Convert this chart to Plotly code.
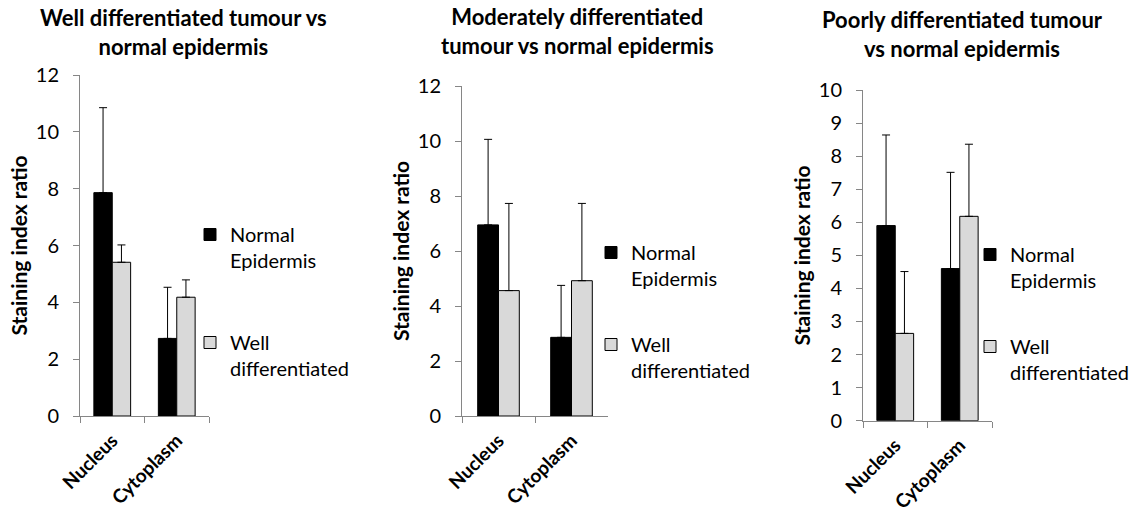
import plotly.graph_objects as go

categories = ["Nucleus", "Cytoplasm"]
series_names = ["Normal<br>Epidermis", "Well<br>differentiated"]

titles = [
    "Well differentiated tumour vs<br>normal epidermis",
    "Moderately differentiated<br>tumour vs normal epidermis",
    "Poorly differentiated tumour<br>vs normal epidermis",
]

# panel 1: well differentiated
p1_normal = [7.86, 2.73]
p1_normal_err = [2.99, 1.80]
p1_tumour = [5.41, 4.18]
p1_tumour_err = [0.61, 0.61]

# panel 2: moderately differentiated
p2_normal = [6.95, 2.86]
p2_normal_err = [3.11, 1.89]
p2_tumour = [4.56, 4.92]
p2_tumour_err = [3.17, 2.81]

# panel 3: poorly differentiated
p3_normal = [5.90, 4.60]
p3_normal_err = [2.74, 2.91]
p3_tumour = [2.64, 6.18]
p3_tumour_err = [1.87, 2.18]

y_ranges = [[0, 12], [0, 12], [0, 10]]
y_dticks = [2, 2, 1]

W, H = 1148, 517
FONT = "Lato"

# layout positions (px)
x_dom_px = [(80, 209), (462, 608), (863, 992)]
y_dom_px = [(75, 416), (86, 416), (90, 420.7)]
title_pos = [(183, 32), (577, 31), (962, 34)]
legend_pos = [(190, 215), (591, 233), (970, 235)]
legend_gaps = [53, 37, 37]

panels = [
    (p1_normal, p1_normal_err, p1_tumour, p1_tumour_err),
    (p2_normal, p2_normal_err, p2_tumour, p2_tumour_err),
    (p3_normal, p3_normal_err, p3_tumour, p3_tumour_err),
]

fig = go.Figure()
colors = ["#000000", "#d9d9d9"]

for i, (nv, ne, tv, te) in enumerate(panels):
    sfx = "" if i == 0 else str(i + 1)
    leg = "legend" + sfx
    for j, (vals, errs) in enumerate([(nv, ne), (tv, te)]):
        fig.add_trace(go.Bar(
            x=categories, y=vals, name=series_names[j],
            marker=dict(color=colors[j], line=dict(color="#000000", width=1)),
            error_y=dict(type="data", array=errs, arrayminus=[0] * len(errs),
                         symmetric=False, color="#000000", thickness=1, width=4),
            xaxis="x" + sfx, yaxis="y" + sfx,
            legend=leg, legendgroup=f"g{i}_{j}",
        ))

layout = dict(
    width=W, height=H,
    margin=dict(l=0, r=0, t=0, b=0, autoexpand=False),
    paper_bgcolor="white", plot_bgcolor="white",
    barmode="group", bargap=0.43, bargroupgap=0,
    font=dict(family=FONT, color="#000000"),
    annotations=[],
)

for i in range(3):
    sfx = "" if i == 0 else str(i + 1)
    x0, x1 = x_dom_px[i]
    ytop, ybot = y_dom_px[i]
    layout["xaxis" + sfx] = dict(
        domain=[x0 / W, x1 / W], anchor="y" + sfx, automargin=False,
        showline=True, linecolor="#868686", linewidth=1,
        ticks="outside", tickson="boundaries", ticklen=6, tickcolor="#868686",
        tickangle=-45, tickfont=dict(family=FONT, size=19, weight="bold"),
        ticklabelstandoff=5,
        showgrid=False, zeroline=False, fixedrange=True,
    )
    layout["yaxis" + sfx] = dict(
        domain=[1 - ybot / H, 1 - ytop / H], anchor="x" + sfx, automargin=False,
        range=y_ranges[i], dtick=y_dticks[i], tick0=0,
        showline=True, linecolor="#868686", linewidth=1,
        ticks="outside", ticklen=6, tickcolor="#868686",
        tickfont=dict(family=FONT, size=20),
        ticklabelstandoff=10,
        showgrid=False, zeroline=False, fixedrange=True,
        title=dict(text="Staining index ratio", standoff=2,
                   font=dict(family=FONT, size=21, weight="bold")),
    )
    lx, ly = legend_pos[i]
    layout["legend" + sfx] = dict(
        x=lx / W, y=1 - ly / H, xanchor="left", yanchor="top",
        font=dict(family=FONT, size=20), valign="top",
        traceorder="grouped", tracegroupgap=legend_gaps[i],
        bgcolor="rgba(0,0,0,0)", itemclick=False, itemdoubleclick=False,
    )
    tx, ty = title_pos[i]
    layout["annotations"].append(dict(
        text=titles[i], x=tx / W, y=1 - ty / H, xref="paper", yref="paper",
        xanchor="center", yanchor="middle", showarrow=False,
        font=dict(family=FONT, size=22, weight="bold"),
    ))

fig.update_layout(**layout)
fig.write_html("out.html", config={"displayModeBar": False},
               post_script="document.body.style.margin='0';")
